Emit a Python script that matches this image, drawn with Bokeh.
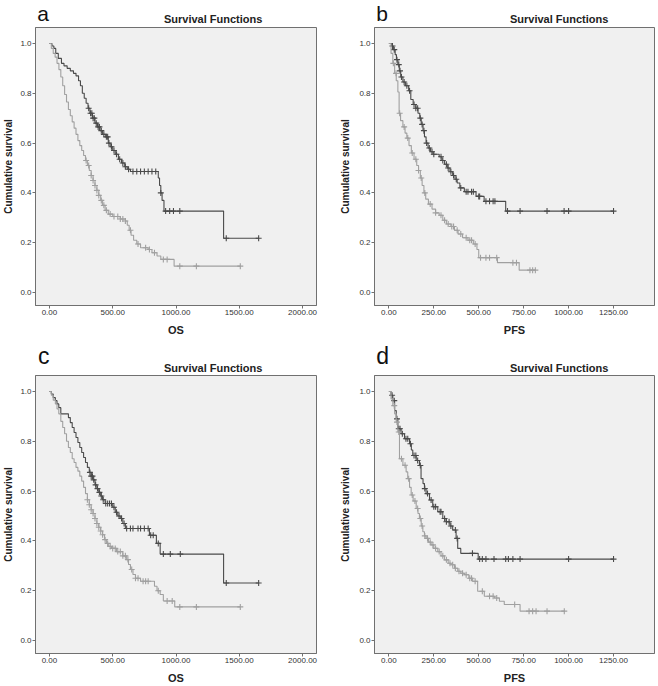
import numpy as np
from bokeh.plotting import figure
from bokeh.layouts import column, row
from bokeh.models import Range1d, FixedTicker, PrintfTickFormatter
from bokeh.core.properties import value
from bokeh.embed import file_html
from bokeh.resources import INLINE

# ---------------- data ----------------
# Panel a: OS
a_dark_t = [0, 20, 35, 50, 70, 95, 115, 140, 165, 190, 210, 230, 245, 260, 275, 290, 305, 320, 340, 360,
            380, 400, 420, 445, 465, 480, 500, 520, 545, 570, 595, 615, 640, 860, 870, 880, 890, 905, 1376]
a_dark_s = [1.0, 0.99, 0.98, 0.96, 0.94, 0.92, 0.91, 0.90, 0.89, 0.88, 0.87, 0.85, 0.83, 0.80, 0.78, 0.76,
            0.74, 0.72, 0.70, 0.68, 0.665, 0.65, 0.635, 0.625, 0.60, 0.585, 0.57, 0.555, 0.535, 0.52, 0.505,
            0.495, 0.486, 0.46, 0.43, 0.40, 0.37, 0.327, 0.218]
a_dark_end = 1653
a_dark_c = [310, 325, 335, 345, 355, 370, 385, 395, 410, 430, 450, 460, 470, 490, 510, 530, 555, 580, 600,
            625, 660, 690, 720, 750, 780, 810, 840, 880, 918, 950, 980, 1030, 1397, 1653]
a_light_t = [0, 15, 30, 45, 60, 75, 90, 105, 120, 135, 150, 165, 180, 195, 210, 225, 240, 255, 270, 285,
             300, 315, 330, 345, 360, 375, 390, 405, 420, 440, 465, 500, 560, 600, 615, 630, 645, 665, 690,
             720, 780, 810, 850, 880, 985]
a_light_s = [1.0, 0.98, 0.96, 0.945, 0.92, 0.895, 0.865, 0.83, 0.795, 0.765, 0.735, 0.71, 0.685, 0.66,
             0.635, 0.61, 0.59, 0.57, 0.55, 0.53, 0.51, 0.49, 0.47, 0.45, 0.43, 0.41, 0.39, 0.37, 0.35, 0.33,
             0.315, 0.305, 0.295, 0.287, 0.27, 0.25, 0.23, 0.21, 0.195, 0.18, 0.173, 0.16, 0.147, 0.133, 0.106]
a_light_end = 1508
a_light_c = [290, 310, 330, 345, 360, 375, 390, 410, 430, 450, 480, 510, 540, 560, 580, 600, 640, 700, 760,
             790, 830, 900, 930, 1030, 1161, 1508]

# Panel b: PFS
b_dark_t = [0, 15, 25, 35, 42, 50, 58, 66, 78, 92, 110, 122, 135, 150, 162, 172, 180, 190, 198, 207,
            218, 232, 246, 280, 295, 310, 325, 340, 355, 368, 380, 395, 420, 485, 530, 650]
b_dark_s = [1.0, 0.99, 0.975, 0.955, 0.935, 0.915, 0.89, 0.865, 0.845, 0.83, 0.81, 0.775, 0.755, 0.74,
            0.72, 0.70, 0.675, 0.65, 0.625, 0.60, 0.58, 0.565, 0.555, 0.545, 0.53, 0.515, 0.50, 0.485, 0.47,
            0.455, 0.44, 0.42, 0.405, 0.386, 0.366, 0.327]
b_dark_end = 1250
b_dark_c = [20, 30, 45, 55, 62, 70, 85, 100, 115, 140, 150, 160, 175, 185, 195, 210, 225, 240, 250, 290,
            300, 320, 330, 345, 360, 375, 400, 430, 440, 460, 470, 500, 505, 540, 560, 580, 590, 660, 730,
            880, 975, 1000, 1250]
b_light_t = [0, 12, 22, 32, 41, 50, 57, 65, 78, 90, 100, 112, 125, 140, 155, 165, 175, 185, 195, 205,
             220, 240, 260, 280, 300, 320, 345, 365, 385, 410, 440, 470, 490, 500, 604, 725]
b_light_s = [1.0, 0.96, 0.92, 0.88, 0.85, 0.805, 0.72, 0.69, 0.665, 0.64, 0.62, 0.59, 0.56, 0.535, 0.51,
             0.49, 0.46, 0.43, 0.40, 0.375, 0.355, 0.335, 0.32, 0.31, 0.29, 0.275, 0.265, 0.25, 0.235, 0.22,
             0.21, 0.195, 0.173, 0.14, 0.12, 0.09]
b_light_end = 815
b_light_c = [25, 40, 60, 85, 105, 130, 150, 165, 180, 200, 230, 260, 290, 310, 330, 350, 360, 380, 400,
             430, 450, 460, 480, 510, 540, 560, 600, 690, 710, 785, 800, 815]

# Panel c: OS
c_dark_t = [0, 15, 30, 47, 60, 74, 90, 150, 165, 180, 195, 210, 225, 240, 255, 270, 285, 300, 315, 330,
            345, 360, 375, 390, 405, 420, 440, 500, 520, 540, 560, 580, 600, 790, 845, 875, 1376]
c_dark_s = [1.0, 0.99, 0.975, 0.963, 0.95, 0.935, 0.91, 0.895, 0.875, 0.855, 0.835, 0.815, 0.795, 0.775,
            0.755, 0.735, 0.715, 0.695, 0.675, 0.66, 0.645, 0.625, 0.61, 0.595, 0.58, 0.565, 0.55, 0.535,
            0.515, 0.5, 0.49, 0.47, 0.45, 0.423, 0.39, 0.347, 0.231]
c_dark_end = 1653
c_dark_c = [320, 330, 340, 350, 365, 380, 395, 410, 425, 445, 460, 475, 490, 510, 530, 550, 570, 590, 610,
            640, 660, 700, 720, 750, 780, 800, 820, 860, 900, 955, 1034, 1397, 1653]
c_light_t = [0, 15, 30, 47, 60, 74, 90, 105, 120, 135, 150, 165, 180, 195, 210, 225, 240, 255, 270, 285,
             300, 315, 330, 345, 360, 375, 390, 405, 420, 435, 450, 465, 490, 530, 580, 610, 625, 640, 660,
             680, 720, 830, 850, 875, 900, 990]
c_light_s = [1.0, 0.985, 0.965, 0.95, 0.93, 0.91, 0.88, 0.855, 0.83, 0.8, 0.775, 0.755, 0.73, 0.715, 0.695,
             0.68, 0.66, 0.64, 0.615, 0.59, 0.565, 0.545, 0.525, 0.51, 0.49, 0.47, 0.455, 0.44, 0.425, 0.405,
             0.39, 0.378, 0.37, 0.357, 0.34, 0.325, 0.305, 0.285, 0.265, 0.25, 0.238, 0.218, 0.2, 0.185,
             0.159, 0.135]
c_light_end = 1508
c_light_c = [300, 315, 330, 345, 360, 375, 390, 405, 420, 440, 460, 480, 500, 520, 540, 560, 580, 600, 620,
             650, 680, 700, 740, 760, 780, 860, 930, 970, 1030, 1161, 1508]

# Panel d: PFS
d_dark_t = [0, 12, 22, 32, 41, 50, 68, 87, 115, 125, 133, 152, 170, 179, 190, 198, 207, 226, 244, 272,
            300, 318, 340, 355, 374, 383, 400, 497]
d_dark_s = [1.0, 0.985, 0.963, 0.923, 0.89, 0.85, 0.83, 0.81, 0.79, 0.765, 0.743, 0.723, 0.703, 0.65, 0.63,
            0.61, 0.59, 0.564, 0.537, 0.517, 0.49, 0.477, 0.46, 0.444, 0.41, 0.37, 0.35, 0.327]
d_dark_end = 1250
d_dark_c = [18, 30, 45, 55, 62, 75, 95, 105, 120, 140, 150, 160, 175, 200, 215, 235, 250, 260, 285, 290,
            310, 320, 335, 345, 370, 380, 465, 505, 520, 540, 585, 650, 665, 690, 730, 1000, 1250]
d_light_t = [0, 12, 22, 32, 41, 50, 59, 78, 96, 105, 115, 124, 135, 152, 162, 170, 180, 189, 198, 207,
             220, 235, 250, 272, 290, 309, 330, 346, 365, 383, 400, 420, 445, 466, 494, 531, 587, 615, 642, 730]
d_light_s = [1.0, 0.97, 0.943, 0.91, 0.877, 0.837, 0.73, 0.704, 0.677, 0.65, 0.615, 0.584, 0.56, 0.53, 0.51,
             0.49, 0.46, 0.437, 0.42, 0.41, 0.395, 0.384, 0.37, 0.357, 0.34, 0.324, 0.31, 0.304, 0.29, 0.278,
             0.27, 0.264, 0.25, 0.238, 0.198, 0.178, 0.171, 0.158, 0.145, 0.118]
d_light_end = 980
d_light_c = [30, 45, 55, 70, 90, 110, 130, 145, 160, 175, 185, 200, 215, 230, 245, 260, 280, 300, 320, 340,
             355, 370, 390, 410, 430, 450, 460, 480, 520, 560, 580, 600, 700, 780, 800, 819, 880, 976]

os_ticks = [0, 500, 1000, 1500, 2000]
pfs_ticks = [0, 250, 500, 750, 1000, 1250]
y_ticks = [0.0, 0.2, 0.4, 0.6, 0.8, 1.0]
panel_letters = ["a", "b", "c", "d"]
panel_title = "Survival Functions"

# ---------------- styling ----------------
FONT = "Liberation Sans"
DARK = "#4a4a4a"
LIGHT = "#a0a0a0"
FRAME = "#707070"
W = 329


def header(letter, letter_size, letter_x, letter_y, letter_bl, title_x, title_y, h):
    hp = figure(width=W, height=h, x_range=Range1d(0, W), y_range=Range1d(h, 0),
                output_backend="svg", toolbar_location=None,
                x_axis_location=None, y_axis_location=None,
                min_border_left=0, min_border_right=0, min_border_top=0, min_border_bottom=0)
    hp.outline_line_color = None
    hp.background_fill_color = "white"
    hp.border_fill_color = "white"
    hp.grid.visible = False
    hp.text(x=[letter_x], y=[letter_y], text=[letter], text_font=value(FONT),
            text_font_size=value(letter_size), text_color="#111111",
            text_align="left", text_baseline=letter_bl)
    hp.text(x=[title_x], y=[title_y], text=[panel_title], text_font=value(FONT),
            text_font_size=value("11px"), text_font_style="bold", text_color="#222222",
            text_align="center", text_baseline="middle")
    return hp


def draw_curve(p, t, s, end, cens, color):
    xs = list(t) + [end]
    ys = list(s) + [s[-1]]
    p.step(xs, ys, mode="after", line_color=color, line_width=1.1)
    tt = np.array(t)
    ss = np.array(s)
    idx = np.searchsorted(tt, np.array(cens), side="right") - 1
    p.scatter(cens, ss[idx], marker="cross", size=6, line_color=color, line_width=1.1)


def panel(xlabel, xr, xticks, curves, height, bl, br, bb, ylab_so):
    p = figure(width=W, height=height, x_range=Range1d(*xr), y_range=Range1d(-0.052, 1.064),
               output_backend="svg", toolbar_location=None,
               min_border_left=bl, min_border_right=br, min_border_top=1, min_border_bottom=bb)
    p.background_fill_color = "#f0f0f0"
    p.border_fill_color = "white"
    p.outline_line_color = FRAME
    p.outline_line_width = 1
    p.grid.visible = False
    for ax in (p.xaxis[0], p.yaxis[0]):
        ax.axis_line_color = FRAME
        ax.major_tick_line_color = FRAME
        ax.major_tick_out = 3
        ax.major_tick_in = 0
        ax.minor_tick_line_color = None
        ax.major_label_text_font = FONT
        ax.major_label_text_font_size = "8px"
        ax.major_label_text_color = "#333333"
        ax.major_label_standoff = 1
        ax.axis_label_text_font = FONT
        ax.axis_label_text_font_style = "bold"
        ax.axis_label_text_color = "#222222"
    p.xaxis.ticker = FixedTicker(ticks=xticks)
    p.xaxis.formatter = PrintfTickFormatter(format="%.2f")
    p.yaxis.ticker = FixedTicker(ticks=y_ticks)
    p.yaxis.formatter = PrintfTickFormatter(format="%.1f")
    p.xaxis.axis_label = xlabel
    p.xaxis.axis_label_text_font_size = "11px"
    p.xaxis.axis_label_standoff = 6
    p.yaxis.axis_label = "Cumulative survival"
    p.yaxis.axis_label_text_font_size = "10px"
    p.yaxis.axis_label_standoff = ylab_so

    for (t, s, end, cens, col) in curves:
        draw_curve(p, t, s, end, cens, col)
    return p


ha = header(panel_letters[0], "21px", 2, 13, "middle", 208, 18, 26)
pa = panel("OS", (-110, 2110), os_ticks,
           [(a_dark_t, a_dark_s, a_dark_end, a_dark_c, DARK),
            (a_light_t, a_light_s, a_light_end, a_light_c, LIGHT)],
           317, 35, 13, 38, 3)
hb = header(panel_letters[1], "21px", 2, 13, "middle", 217, 18, 26)
pb = panel("PFS", (-80, 1478), pfs_ticks,
           [(b_dark_t, b_dark_s, b_dark_end, b_dark_c, DARK),
            (b_light_t, b_light_s, b_light_end, b_light_c, LIGHT)],
           317, 45, 4, 38, 5)
hc = header(panel_letters[2], "23px", 3, 12, "alphabetic", 208, 24, 31)
pc = panel("OS", (-110, 2110), os_ticks,
           [(c_dark_t, c_dark_s, c_dark_end, c_dark_c, DARK),
            (c_light_t, c_light_s, c_light_end, c_light_c, LIGHT)],
           312, 35, 13, 31, 3)
hd = header(panel_letters[3], "23px", 2, 12, "alphabetic", 217, 24, 31)
pd_ = panel("PFS", (-80, 1478), pfs_ticks,
            [(d_dark_t, d_dark_s, d_dark_end, d_dark_c, DARK),
             (d_light_t, d_light_s, d_light_end, d_light_c, LIGHT)],
            312, 45, 4, 31, 5)

layout = column(row(column(ha, pa), column(hb, pb)), row(column(hc, pc), column(hd, pd_)))
open("out.html", "w").write(file_html(layout, INLINE))
